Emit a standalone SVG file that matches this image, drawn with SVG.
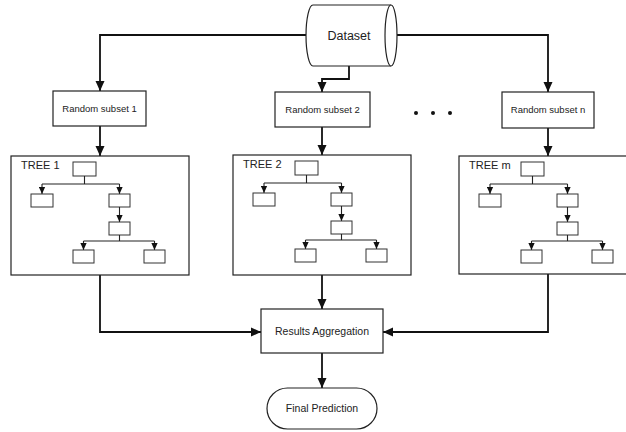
<svg xmlns="http://www.w3.org/2000/svg" xmlns:xlink="http://www.w3.org/1999/xlink" width="626" height="432" viewBox="0 0 626 432">
<style>
.bx{fill:#fff;stroke:#222;stroke-width:1.2}
.sm{fill:#fff;stroke:#333;stroke-width:1}
.ln{fill:none;stroke:#111;stroke-width:1.8}
.tl{fill:none;stroke:#222;stroke-width:1.1}
.t{font-family:"Liberation Sans",Arial,sans-serif;fill:#222;text-anchor:middle}
.tt{font-family:"Liberation Sans",Arial,sans-serif;fill:#222;font-size:11px}
</style>
<defs>
<marker id="ah" markerUnits="userSpaceOnUse" markerWidth="10" markerHeight="10" viewBox="0 0 10 10" refX="10" refY="5" orient="auto">
<path d="M0,0.5 L10,5 L0,9.5 Z" fill="#111"/>
</marker>
<marker id="as" markerUnits="userSpaceOnUse" markerWidth="7" markerHeight="7" viewBox="0 0 10 10" refX="10" refY="5" orient="auto">
<path d="M0,0.5 L10,5 L0,9.5 Z" fill="#111"/>
</marker>
<g id="tree">
<rect class="sm" x="62" y="6" width="23" height="14"/>
<path class="tl" d="M73.5,20 V28 M31,28 H108.5"/>
<path class="tl" marker-end="url(#as)" d="M31,28 V38"/>
<path class="tl" marker-end="url(#as)" d="M108.5,28 V38"/>
<rect class="sm" x="20" y="38" width="22" height="13"/>
<rect class="sm" x="98" y="38" width="21" height="13"/>
<path class="tl" marker-end="url(#as)" d="M108.5,51 V66"/>
<rect class="sm" x="98" y="66" width="21" height="13"/>
<path class="tl" d="M108.5,79 V85 M72.5,85 H143.5"/>
<path class="tl" marker-end="url(#as)" d="M72.5,85 V94"/>
<path class="tl" marker-end="url(#as)" d="M143.5,85 V94"/>
<rect class="sm" x="62" y="94" width="21" height="13"/>
<rect class="sm" x="133" y="94" width="21" height="13"/>
</g>
</defs>
<rect width="626" height="432" fill="#fff"/>
<g id="connectors">
<path class="ln" marker-end="url(#ah)" d="M307,35 H100 V91"/>
<path class="ln" marker-end="url(#ah)" d="M391,35 H548 V92"/>
<path class="ln" marker-end="url(#ah)" d="M349,66 V79 H322 V92"/>
<path class="ln" marker-end="url(#ah)" d="M100,126 V156"/>
<path class="ln" marker-end="url(#ah)" d="M322,127 V155"/>
<path class="ln" marker-end="url(#ah)" d="M548,128 V156"/>
<path class="ln" marker-end="url(#ah)" d="M100,275 V332 H261"/>
<path class="ln" marker-end="url(#ah)" d="M322,275 V309"/>
<path class="ln" marker-end="url(#ah)" d="M548,274 V332 H383"/>
<path class="ln" marker-end="url(#ah)" d="M322,353 V388"/>
</g>
<g id="dataset">
<path class="bx" d="M313,5 H391 A6,30.5 0 0 1 391,66 H313 A7,30.5 0 0 1 313,5 Z"/>
<path class="bx" fill="none" d="M391,5 A6,30.5 0 0 0 391,66"/>
<text class="t" x="349" y="40" font-size="12.5">Dataset</text>
</g>
<g id="subset1">
<rect class="bx" x="53" y="91" width="93" height="35"/>
<text class="t" x="99.5" y="112" font-size="9.5">Random subset 1</text>
</g>
<g id="subset2">
<rect class="bx" x="275" y="92" width="95" height="35"/>
<text class="t" x="322.5" y="113" font-size="9.5">Random subset 2</text>
</g>
<g id="dots">
<circle cx="416" cy="113" r="2" fill="#111"/>
<circle cx="433" cy="113" r="2" fill="#111"/>
<circle cx="450" cy="113" r="2" fill="#111"/>
</g>
<g id="subsetn">
<rect class="bx" x="502" y="92" width="92" height="36"/>
<text class="t" x="548" y="113" font-size="9.5">Random subset n</text>
</g>
<g id="tree1">
<rect class="bx" x="11" y="156" width="178" height="119"/>
<text class="tt" x="21" y="169">TREE 1</text>
<use xlink:href="#tree" x="11" y="156"/>
</g>
<g id="tree2">
<rect class="bx" x="233" y="155" width="178" height="120"/>
<text class="tt" x="243" y="168">TREE 2</text>
<use xlink:href="#tree" x="233" y="155"/>
</g>
<g id="treem">
<rect class="bx" x="459" y="156" width="178" height="118"/>
<text class="tt" x="469" y="169">TREE m</text>
<use xlink:href="#tree" x="459" y="156"/>
</g>
<g id="aggregation">
<rect class="bx" x="261" y="309" width="122" height="44"/>
<text class="t" x="322" y="335" font-size="10.5">Results Aggregation</text>
</g>
<g id="final">
<rect class="bx" x="267" y="388" width="110" height="41" rx="20.5" ry="20.5"/>
<text class="t" x="322" y="412" font-size="10.5">Final Prediction</text>
</g>
</svg>
